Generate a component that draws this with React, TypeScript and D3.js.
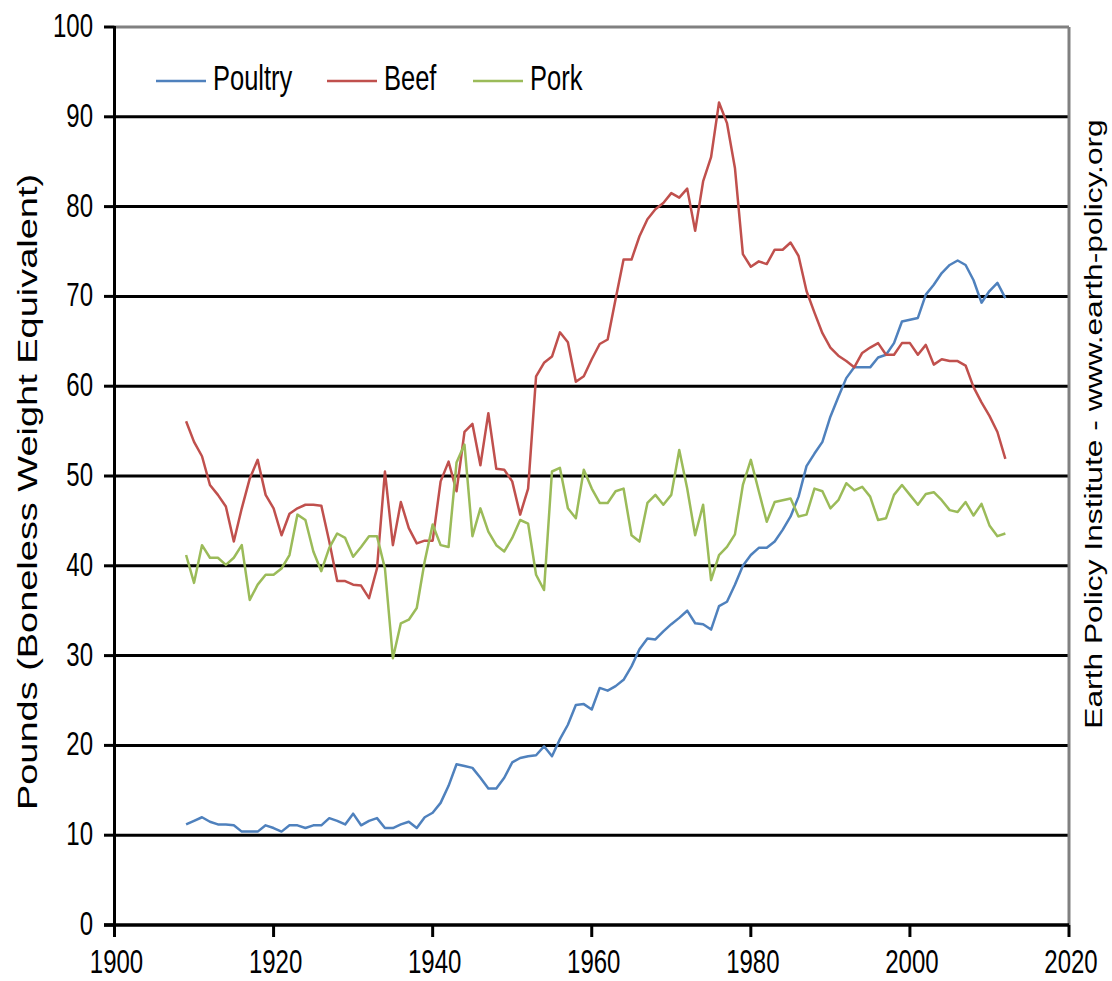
import React from "react";
import * as d3 from "d3";

const startYear = 1909;
const poultry = [
  11.2, 11.6, 12.0, 11.5, 11.2, 11.2, 11.1, 10.4, 10.4, 10.4, // 1909-1918
  11.1, 10.8, 10.4, 11.1, 11.1, 10.8, 11.1, 11.1, 11.9, 11.6, // 1919-1928
  11.2, 12.4, 11.1, 11.6, 11.9, 10.8, 10.8, 11.2, 11.5, 10.8, // 1929-1938
  12.0, 12.5, 13.6, 15.5, 17.9, 17.7, 17.5, 16.4, 15.2, 15.2, // 1939-1948
  16.4, 18.1, 18.6, 18.8, 18.9, 19.9, 18.8, 20.7, 22.3, 24.5, // 1949-1958
  24.6, 24.0, 26.4, 26.1, 26.6, 27.3, 28.8, 30.7, 31.9, 31.8, // 1959-1968
  32.7, 33.5, 34.2, 35.0, 33.6, 33.5, 32.9, 35.5, 36.0, 37.9, // 1969-1978
  40.0, 41.2, 42.0, 42.0, 42.7, 44.0, 45.5, 47.7, 51.1, 52.5, // 1979-1988
  53.8, 56.6, 58.8, 60.9, 62.1, 62.1, 62.1, 63.2, 63.5, 64.8, // 1989-1998
  67.2, 67.4, 67.6, 70.2, 71.3, 72.6, 73.5, 74.0, 73.5, 71.8, // 1999-2008
  69.3, 70.6, 71.5, 69.8, // 2009-2012
];
const beef = [
  56.1, 53.8, 52.2, 49.0, 47.9, 46.6, 42.7, 46.4, 49.7, 51.8,
  47.9, 46.4, 43.4, 45.8, 46.4, 46.8, 46.8, 46.7, 42.7, 38.3,
  38.3, 37.9, 37.8, 36.4, 39.7, 50.5, 42.3, 47.1, 44.2, 42.5,
  42.8, 42.8, 49.4, 51.6, 48.3, 54.9, 55.8, 51.2, 57.0, 50.8,
  50.7, 49.4, 45.7, 48.6, 61.1, 62.6, 63.3, 66.0, 64.9, 60.5,
  61.1, 63.0, 64.7, 65.2, 69.7, 74.1, 74.1, 76.7, 78.6, 79.7,
  80.4, 81.5, 81.0, 82.0, 77.3, 82.8, 85.5, 91.6, 89.3, 84.3,
  74.7, 73.3, 73.9, 73.6, 75.2, 75.2, 76.0, 74.5, 70.6, 68.2,
  65.9, 64.3, 63.4, 62.8, 62.1, 63.7, 64.3, 64.8, 63.5, 63.5,
  64.8, 64.8, 63.5, 64.6, 62.4, 63.0, 62.8, 62.8, 62.3, 59.9,
  58.2, 56.7, 54.9, 51.9,
];
const pork = [
  41.2, 38.1, 42.3, 40.9, 40.9, 40.1, 40.9, 42.3, 36.2, 37.9,
  39.0, 39.0, 39.7, 41.2, 45.7, 45.1, 41.6, 39.4, 42.0, 43.6,
  43.1, 41.0, 42.1, 43.3, 43.3, 39.7, 29.7, 33.6, 34.0, 35.3,
  40.5, 44.6, 42.3, 42.1, 51.5, 53.5, 43.3, 46.4, 43.8, 42.3,
  41.6, 43.1, 45.1, 44.7, 39.0, 37.3, 50.5, 50.9, 46.4, 45.3,
  50.7, 48.6, 47.0, 47.0, 48.3, 48.6, 43.4, 42.7, 47.0, 47.9,
  46.8, 47.9, 52.9, 48.6, 43.4, 46.8, 38.4, 41.2, 42.1, 43.5,
  49.0, 51.8, 48.3, 44.9, 47.1, 47.3, 47.5, 45.5, 45.7, 48.6,
  48.3, 46.4, 47.3, 49.2, 48.4, 48.8, 47.7, 45.1, 45.3, 47.9,
  49.0, 47.9, 46.8, 48.0, 48.2, 47.3, 46.2, 46.0, 47.1, 45.6,
  46.9, 44.5, 43.3, 43.6,
];

const seriesNames = ["Poultry", "Beef", "Pork"];
const seriesColors = ["#4F81BD", "#C0504D", "#9BBB59"];
const seriesData = [poultry, beef, pork];
const yTicks = [0, 10, 20, 30, 40, 50, 60, 70, 80, 90, 100];
const xTicks = [1900, 1920, 1940, 1960, 1980, 2000, 2020];
const yTitle = "Pounds (Boneless Weight Equivalent)";
const sourceText = "Earth Policy Institute - www.earth-policy.org";

const W = 1112;
const H = 981;
const FONT = "'Liberation Sans', Arial, sans-serif";
const STRETCH = 1.38;

export default function App() {
  const x = d3.scaleLinear().domain([1900, 2020]).range([114.5, 1069]);
  const y = d3.scaleLinear().domain([0, 100]).range([925, 27]);
  const line = d3
    .line<number>()
    .x((_, i) => x(startYear + i))
    .y((d) => y(d));

  const legendX = [156, 327, 473];

  return (
    <svg
      width={W}
      height={H}
      style={{ position: "absolute", left: 0, top: 0, background: "#fff" }}
      fontFamily={FONT}
    >
      <rect x={0} y={0} width={W} height={H} fill="#fff" />
      {/* gridlines */}
      {yTicks
        .filter((t) => t > 0 && t < 100)
        .map((t) => (
          <line key={t} x1={x(1900)} x2={x(2020)} y1={y(t)} y2={y(t)} stroke="#000" strokeWidth={3} />
        ))}
      {/* top & right border */}
      <line x1={x(1900)} x2={x(2020)} y1={y(100)} y2={y(100)} stroke="#808080" strokeWidth={3} />
      <line x1={x(2020)} x2={x(2020)} y1={y(100)} y2={y(0)} stroke="#808080" strokeWidth={3} />
      {/* y ticks */}
      {yTicks.map((t) => (
        <line key={"yt" + t} x1={104} x2={x(1900)} y1={y(t)} y2={y(t)} stroke="#000" strokeWidth={3} />
      ))}
      {/* x ticks */}
      {xTicks.map((t) => (
        <line key={"xt" + t} x1={x(t)} x2={x(t)} y1={y(0)} y2={y(0) + 12} stroke="#000" strokeWidth={3} />
      ))}
      {/* axes */}
      <line x1={x(1900)} x2={x(1900)} y1={y(100) - 1} y2={y(0) + 1} stroke="#000" strokeWidth={3} />
      <line x1={104} x2={x(2020)} y1={y(0)} y2={y(0)} stroke="#000" strokeWidth={3.5} />

      {/* series */}
      {seriesData.map((s, i) => (
        <path
          key={seriesNames[i]}
          d={line(s) || ""}
          fill="none"
          stroke={seriesColors[i]}
          strokeWidth={2.5}
          strokeLinejoin="round"
        />
      ))}

      {/* y tick labels */}
      {yTicks.map((t) => (
        <text
          key={"yl" + t}
          transform={`translate(93,${y(t) + 10}) scale(1,${STRETCH})`}
          textAnchor="end"
          fontSize={24}
          fill="#000"
        >
          {t}
        </text>
      ))}
      {/* x tick labels */}
      {xTicks.map((t) => (
        <text
          key={"xl" + t}
          transform={`translate(${x(t) + 2},973) scale(1,${STRETCH})`}
          textAnchor="middle"
          fontSize={24}
          fill="#000"
        >
          {t}
        </text>
      ))}

      {/* legend */}
      {seriesNames.map((n, i) => (
        <g key={"lg" + n}>
          <line x1={legendX[i]} x2={legendX[i] + 50} y1={81} y2={81} stroke={seriesColors[i]} strokeWidth={2.5} />
          <text
            transform={`translate(${legendX[i] + 57},89.5) scale(1,${STRETCH})`}
            fontSize={25.5}
            fill="#000"
          >
            {n}
          </text>
        </g>
      ))}

      {/* y title */}
      <text
        transform={`translate(37,492) rotate(-90) scale(${STRETCH},1)`}
        textAnchor="middle"
        fontSize={27.5}
        fill="#000"
      >
        {yTitle}
      </text>
      {/* source */}
      <text
        transform={`translate(1102,424) rotate(-90) scale(${STRETCH},1)`}
        textAnchor="middle"
        fontSize={23}
        fill="#000"
      >
        {sourceText}
      </text>
    </svg>
  );
}
